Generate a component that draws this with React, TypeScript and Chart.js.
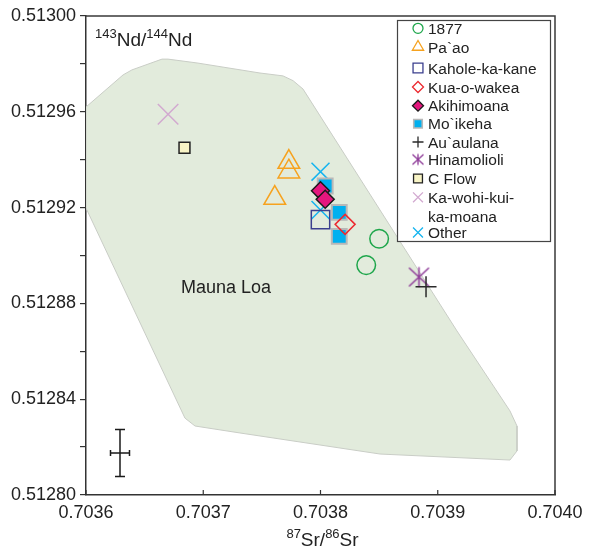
import React, { useEffect, useRef } from 'react';
import { Chart, registerables } from 'chart.js';
import { drawPoint } from 'chart.js/helpers';

Chart.register(...registerables);

// ---------- data (87Sr/86Sr, 143Nd/144Nd) ----------
const SERIES_NAMES = ['1877', 'Pa`ao', 'Kahole-ka-kane', 'Kua-o-wakea', 'Akihimoana', 'Mo`ikeha', 'Au`aulana', 'Hinamolioli', 'C Flow', 'Ka-wohi-kui-ka-moana', 'Other'];

const SR_1877 = [0.70385, 0.703839];
const ND_1877 = [0.512907, 0.512896];
const SR_PAAO = [0.703773, 0.703773, 0.703761];
const ND_PAAO = [0.512939, 0.512935, 0.512924];
const SR_KAHOLE = [0.7038];
const ND_KAHOLE = [0.512915];
const SR_KUA = [0.703821];
const ND_KUA = [0.512913];
const SR_AKIHI = [0.7038, 0.703804];
const ND_AKIHI = [0.512927, 0.5129235];
const SR_MOIKEHA = [0.703804, 0.703816, 0.703816];
const ND_MOIKEHA = [0.512929, 0.512918, 0.512908];
const SR_AUAULANA = [0.70389];
const ND_AUAULANA = [0.512887];
const SR_HINA = [0.703884];
const ND_HINA = [0.512891];
const SR_CFLOW = [0.703684];
const ND_CFLOW = [0.512945];
const SR_KAWOHI = [0.70367];
const ND_KAWOHI = [0.512959];
const SR_OTHER = [0.7038, 0.7038];
const ND_OTHER = [0.512935, 0.512919];

const SERIES_SR = [SR_1877, SR_PAAO, SR_KAHOLE, SR_KUA, SR_AKIHI, SR_MOIKEHA, SR_AUAULANA, SR_HINA, SR_CFLOW, SR_KAWOHI, SR_OTHER];
const SERIES_ND = [ND_1877, ND_PAAO, ND_KAHOLE, ND_KUA, ND_AKIHI, ND_MOIKEHA, ND_AUAULANA, ND_HINA, ND_CFLOW, ND_KAWOHI, ND_OTHER];

// Mauna Loa field outline
const MAUNA_LOA_SR = [0.7036, 0.7036316, 0.7036392, 0.7036648, 0.7036699, 0.7036947, 0.7037484, 0.703768, 0.7037766, 0.7037851, 0.7039164, 0.7039616, 0.7039676, 0.7039676, 0.7039616, 0.7038508, 0.7037313, 0.703693, 0.7036844, 0.7036, 0.7036];
const MAUNA_LOA_ND = [0.512962, 0.5129754, 0.5129775, 0.512982, 0.512982, 0.5129804, 0.5129762, 0.512975, 0.512973, 0.5129695, 0.5128685, 0.5128351, 0.5128288, 0.5128184, 0.5128146, 0.5128171, 0.5128259, 0.5128288, 0.5128321, 0.5129198, 0.512962];

// 2-sigma error bar
const ERR_SR = 0.703629;
const ERR_ND = 0.5128175;
const ERR_SR_HALF = 0.0000081;
const ERR_ND_HALF = 0.0000098;

const X_MIN = 0.7036, X_MAX = 0.704, X_STEP = 0.0001;
const Y_MIN = 0.5128, Y_MAX = 0.513, Y_STEP = 0.00002;

// ---------- styles ----------
const FONT = '"Liberation Sans", Arial, Helvetica, sans-serif';
const TEXT = '#222222';

type St = { style: string; r: number; lr: number; fill: string; stroke: string; bw: number };
const STYLES: St[] = [
  { style: 'circle', r: 9.3, lr: 5, fill: 'rgba(0,0,0,0)', stroke: '#1ea64b', bw: 1.5 },
  { style: 'triangle', r: 12.5, lr: 6.5, fill: 'rgba(0,0,0,0)', stroke: '#f6a21e', bw: 1.5 },
  { style: 'rect', r: 13, lr: 7, fill: 'rgba(0,0,0,0)', stroke: '#3b3f8e', bw: 1.5 },
  { style: 'rectRot', r: 10, lr: 5.5, fill: 'rgba(0,0,0,0)', stroke: '#ec2a30', bw: 1.5 },
  { style: 'rectRot', r: 9, lr: 5.5, fill: '#e5177e', stroke: '#1a1a1a', bw: 1.5 },
  { style: 'rect', r: 10.5, lr: 6, fill: '#00b0ef', stroke: '#b8b8b8', bw: 2 },
  { style: 'cross', r: 10.5, lr: 5.5, fill: 'rgba(0,0,0,0)', stroke: '#2a2a2a', bw: 1.5 },
  { style: 'asterisk', r: 10, lr: 5.5, fill: 'rgba(0,0,0,0)', stroke: '#8e3b98', bw: 1.5 },
  { style: 'rect', r: 7.7, lr: 6.3, fill: '#f8f4c6', stroke: '#222222', bw: 1.5 },
  { style: 'crossRot', r: 14.5, lr: 7, fill: 'rgba(0,0,0,0)', stroke: '#d2a9d0', bw: 1.5 },
  { style: 'crossRot', r: 12.7, lr: 7, fill: 'rgba(0,0,0,0)', stroke: '#14b4ef', bw: 1.5 },
];

const LEGEND_ROW_Y = [28.3, 47, 68, 87, 105.7, 123.7, 142, 159.5, 178.5, 197.3, 232.5];
const LEGEND_LINE2_GAP = 19.5;

function makeAsterisk(r: number, color: string, lw: number): HTMLCanvasElement {
  const s = Math.ceil(2 * r + 2 * lw + 2);
  const cv = document.createElement('canvas');
  cv.width = s;
  cv.height = s;
  const c = cv.getContext('2d')!;
  const m = s / 2;
  c.strokeStyle = color;
  c.lineWidth = lw;
  c.beginPath();
  c.moveTo(m - r, m - r * 0.92);
  c.lineTo(m + r, m + r * 0.92);
  c.moveTo(m + r, m - r * 0.92);
  c.lineTo(m - r, m + r * 0.92);
  c.moveTo(m, m - r);
  c.lineTo(m, m + r);
  c.stroke();
  return cv;
}

type Part = { t: string; sup?: boolean };
function drawRich(ctx: CanvasRenderingContext2D, parts: Part[], x: number, baseline: number, size: number, supSize: number, center: boolean) {
  const widths = parts.map((p) => {
    ctx.font = `${p.sup ? supSize : size}px ${FONT}`;
    return ctx.measureText(p.t).width;
  });
  const total = widths.reduce((a, b) => a + b, 0);
  let cx = center ? x - total / 2 : x;
  ctx.textAlign = 'left';
  ctx.textBaseline = 'alphabetic';
  parts.forEach((p, i) => {
    ctx.font = `${p.sup ? supSize : size}px ${FONT}`;
    ctx.fillText(p.t, cx, p.sup ? baseline - size * 0.42 : baseline);
    cx += widths[i];
  });
}

export default function App() {
  const ref = useRef<HTMLCanvasElement | null>(null);

  useEffect(() => {
    document.body.style.margin = '0';
    const canvas = ref.current;
    if (!canvas) return;

    const asteriskPlot = makeAsterisk(STYLES[7].r, STYLES[7].stroke, STYLES[7].bw);
    const asteriskLegend = makeAsterisk(STYLES[7].lr, STYLES[7].stroke, 1.3);

    const datasets: any[] = SERIES_NAMES.map((name, i) => {
      const st = STYLES[i];
      return {
        label: name,
        data: SERIES_SR[i].map((x, j) => ({ x, y: SERIES_ND[i][j] })),
        pointStyle: st.style === 'asterisk' ? asteriskPlot : st.style,
        pointRadius: st.r,
        pointHoverRadius: st.r,
        pointBackgroundColor: st.fill,
        pointBorderColor: st.stroke,
        pointBorderWidth: st.bw,
        pointHoverBorderWidth: st.bw,
        showLine: false,
        order: i,
      };
    });

    datasets.push({
      label: 'Mauna Loa',
      data: MAUNA_LOA_SR.map((x, j) => ({ x, y: MAUNA_LOA_ND[j] })),
      showLine: true,
      fill: 'shape',
      tension: 0,
      pointRadius: 0,
      pointHoverRadius: 0,
      borderColor: '#c9cdc6',
      borderWidth: 1,
      backgroundColor: '#e2ebdc',
      order: 100,
    });

    const overlay = {
      id: 'overlay',
      afterDraw(chart: any) {
        const ctx: CanvasRenderingContext2D = chart.ctx;
        const { left, right, top, bottom } = chart.chartArea;
        const xs = chart.scales.x;
        const ys = chart.scales.y;
        ctx.save();

        // frame (top and right)
        ctx.strokeStyle = '#3a3a3a';
        ctx.lineWidth = 1.5;
        ctx.beginPath();
        ctx.moveTo(left, top);
        ctx.lineTo(right, top);
        ctx.lineTo(right, bottom);
        ctx.stroke();

        // inward x ticks
        ctx.lineWidth = 1.2;
        ctx.strokeStyle = '#333';
        ctx.beginPath();
        xs.ticks.forEach((t: any) => {
          const px = xs.getPixelForValue(t.value);
          ctx.moveTo(px, bottom);
          ctx.lineTo(px, bottom - 5);
        });
        ctx.stroke();

        // error bar
        const ex = xs.getPixelForValue(ERR_SR);
        const ey = ys.getPixelForValue(ERR_ND);
        const ex0 = xs.getPixelForValue(ERR_SR - ERR_SR_HALF);
        const ex1 = xs.getPixelForValue(ERR_SR + ERR_SR_HALF);
        const ey0 = ys.getPixelForValue(ERR_ND - ERR_ND_HALF);
        const ey1 = ys.getPixelForValue(ERR_ND + ERR_ND_HALF);
        ctx.strokeStyle = '#1a1a1a';
        ctx.lineWidth = 1.5;
        ctx.beginPath();
        ctx.moveTo(ex, ey0);
        ctx.lineTo(ex, ey1);
        ctx.moveTo(ex - 5, ey0);
        ctx.lineTo(ex + 5, ey0);
        ctx.moveTo(ex - 5, ey1);
        ctx.lineTo(ex + 5, ey1);
        ctx.moveTo(ex0, ey);
        ctx.lineTo(ex1, ey);
        ctx.moveTo(ex0, ey - 3);
        ctx.lineTo(ex0, ey + 3);
        ctx.moveTo(ex1, ey - 3);
        ctx.lineTo(ex1, ey + 3);
        ctx.stroke();

        // texts
        ctx.fillStyle = TEXT;
        drawRich(ctx, [{ t: '143', sup: true }, { t: 'Nd' }, { t: '/' }, { t: '144', sup: true }, { t: 'Nd' }], 95, 46, 19, 13, false);
        drawRich(ctx, [{ t: '87', sup: true }, { t: 'Sr' }, { t: '/' }, { t: '86', sup: true }, { t: 'Sr' }], (left + right) / 2 + 2, 546, 19, 13, true);
        ctx.font = `18px ${FONT}`;
        ctx.textAlign = 'left';
        ctx.textBaseline = 'alphabetic';
        ctx.fillText('Mauna Loa', 181, 293);

        // legend
        const bx = 397.5, by = 20.5, bw = 153, bh = 221;
        ctx.fillStyle = '#ffffff';
        ctx.fillRect(bx, by, bw, bh);
        ctx.strokeStyle = '#444';
        ctx.lineWidth = 1.2;
        ctx.strokeRect(bx, by, bw, bh);
        const mx = 418, tx = 428;
        SERIES_NAMES.forEach((name, i) => {
          const st = STYLES[i];
          const cy = LEGEND_ROW_Y[i];
          ctx.fillStyle = st.fill;
          ctx.strokeStyle = st.stroke;
          ctx.lineWidth = st.bw === 2 ? 1.6 : 1.3;
          drawPoint(ctx, {
            pointStyle: st.style === 'asterisk' ? asteriskLegend : st.style,
            radius: st.lr,
            rotation: 0,
            borderWidth: ctx.lineWidth,
          } as any, mx, cy);
          ctx.fillStyle = TEXT;
          ctx.font = `15.5px ${FONT}`;
          ctx.textAlign = 'left';
          ctx.textBaseline = 'alphabetic';
          const lines = name === 'Ka-wohi-kui-ka-moana' ? ['Ka-wohi-kui-', 'ka-moana'] : [name];
          lines.forEach((ln, k) => {
            ctx.fillText(ln, tx, cy + 5.5 + k * LEGEND_LINE2_GAP);
          });
        });

        ctx.restore();
      },
    };

    const chart = new Chart(canvas, {
      type: 'scatter',
      data: { datasets },
      plugins: [overlay],
      options: {
        animation: false,
        responsive: false,
        devicePixelRatio: 1,
        layout: { padding: { left: 0, top: 15, right: 35, bottom: 0 } },
        plugins: {
          legend: { display: false },
          tooltip: { enabled: false },
          title: { display: false },
        },
        events: [],
        scales: {
          x: {
            type: 'linear',
            min: X_MIN,
            max: X_MAX,
            afterFit: (s: any) => { s.height = 57; },
            ticks: {
              stepSize: X_STEP,
              autoSkip: false,
              maxRotation: 0,
              padding: 7,
              color: TEXT,
              font: { family: FONT, size: 18 },
              callback: (v: any) => Number(v).toFixed(4),
            },
            grid: { drawOnChartArea: false, drawTicks: false },
            border: { display: true, color: '#333', width: 1.5 },
          },
          y: {
            type: 'linear',
            min: Y_MIN,
            max: Y_MAX,
            afterFit: (s: any) => { s.width = 86; },
            ticks: {
              stepSize: Y_STEP,
              autoSkip: false,
              padding: 4,
              color: TEXT,
              font: { family: FONT, size: 18 },
              callback: (v: any) => {
                const k = Math.round((Number(v) - Y_MIN) / Y_STEP);
                return k % 2 === 0 ? Number(v).toFixed(5) : '';
              },
            },
            grid: { drawOnChartArea: false, tickLength: 6, color: '#333', lineWidth: 1.2 },
            border: { display: true, color: '#333', width: 1.5 },
          },
        },
      } as any,
    });

    return () => chart.destroy();
  }, []);

  return (
    <div style={{ width: 590, height: 552 }}>
      <canvas ref={ref} width={590} height={552} style={{ display: 'block', width: 590, height: 552 }} />
    </div>
  );
}
